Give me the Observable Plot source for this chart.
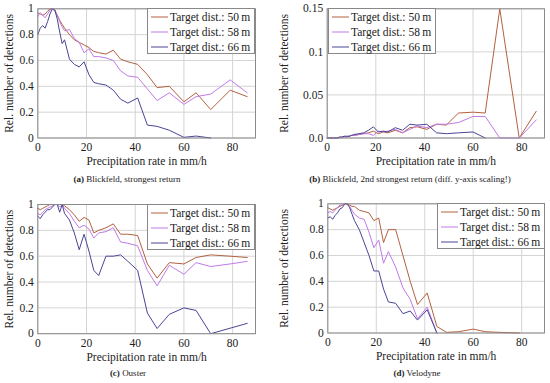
<!DOCTYPE html>
<html><head><meta charset="utf-8">
<script src="https://cdn.jsdelivr.net/npm/d3@7"></script>
<script src="https://cdn.jsdelivr.net/npm/@observablehq/plot@0.6"></script>
<style>
body{margin:0;background:#fff;width:550px;height:383px;position:relative;overflow:hidden;font-family:'Liberation Serif',serif;color:#222;}
.panel{position:absolute;}
.caption{position:absolute;font-size:9px;text-align:center;width:300px;white-space:nowrap;}
.legend{position:absolute;background:#fff;border:1px solid #888;font-size:11.5px;box-sizing:border-box;padding-top:1px;}
.legend .row{display:flex;align-items:center;height:14.7px;white-space:nowrap;}
.legend svg{margin:0 2px 0 3px;}
</style></head><body>
<script>
// shared x positions (precipitation rate, mm/h)
const xs = [0,1,2,3,4,5,6,7,8,9,10,11,13,15,17,19,21,23,25,28,31,34,37,41,45,49,54,60,65,71,79,86];
const seriesNames = ["Target dist.: 50\u2009m","Target dist.: 58\u2009m","Target dist.: 66\u2009m"];
const seriesColors = ["#b3613f","#c07ae8","#4a4596"];

// (a) Blickfeld, strongest return
const a50 = [0.97,0.96,0.95,0.96,0.98,1.0,1.0,0.99,0.95,0.91,0.88,0.85, 0.80,0.76,0.74,0.72,0.70,0.67,0.66, 0.65,0.68,0.61,0.59,0.57, 0.49,0.39,0.40,0.28,0.35,0.22,0.37,0.32];
const a58 = [0.94,0.97,0.95,0.93,0.96,0.99,1.0,0.98,0.95,0.90,0.86,0.83, 0.84,0.77,0.74,0.66,0.69,0.63,0.63, 0.62,0.60,0.52,0.48,0.47, 0.38,0.29,0.35,0.26,0.32,0.34,0.45,0.35];
const a66 = [0.80,0.85,0.87,0.85,0.90,0.96,1.0,0.99,0.92,0.82,0.73,0.76, 0.61,0.57,0.55,0.59,0.49,0.43,0.42, 0.41,0.37,0.30,0.27,0.31, 0.10,0.09,0.06,0.005,0.015,0,null,null];
// (b) Blickfeld, 2nd strongest return
const b50 = [0,0,0,0,0,0.001,0.001,0.002,0.001,0.002,0.003,0.003, 0.004,0.005,0.006,0.008,0.005,0.007,0.006, 0.009,0.006,0.012,0.013,0.010, 0.016,0.015,0.029,0.030,0.029,0.150,0,0.031];
const b58 = [0,0,0,0,0,0,0.001,0.001,0.002,0.002,0.003,0.003, 0.004,0.005,0.005,0.003,0.008,0.007,0.008, 0.010,0.006,0.010,0.014,0.012, 0.016,0.016,0.018,0.025,0.025,0,0,0.021];
const b66 = [0,0,0,0,0,0.001,0.001,0.002,0.002,0.002,0.003,0.004, 0.005,0.006,0.009,0.013,0.007,0.008,0.007, 0.012,0.009,0.016,0.015,0.016, 0.006,0.005,0.006,0.007,0,null,null,null];
// (c) Ouster
const c50 = [0.97,0.96,0.97,0.98,0.99,1.0,1.0,1.0,1.0,1.0,1.0,0.99, 0.96,0.92,0.87,0.90,0.88,0.78,0.80, 0.82,0.85,0.77,0.77,0.76, 0.54,0.43,0.55,0.54,0.59,0.61,0.60,0.59];
const c58 = [0.93,0.92,0.94,0.96,0.97,0.98,0.99,1.0,1.0,0.98,1.0,0.97, 0.93,0.87,0.82,0.84,0.81,0.74,0.78, 0.79,0.82,0.71,0.70,0.68, 0.49,0.37,0.53,0.46,0.55,0.52,0.54,0.56];
const c66 = [0.91,0.89,0.92,0.94,0.96,0.96,0.98,1.0,1.0,0.94,1.0,0.93, 0.88,0.78,0.65,0.77,0.64,0.49,0.45, 0.60,0.60,0.61,0.56,0.49, 0.16,0.04,0.15,0.20,0.18,0.0,null,0.08];
// (d) Velodyne
const d50 = [0.97,0.96,0.95,0.96,0.97,0.98,0.99,1.0,1.0,0.99,0.98,0.98, 0.95,0.94,0.93,0.87,0.89,0.70,0.80, 0.80,0.60,0.40,0.22,0.31, 0.05,0.005,0.01,0.03,0.01,0.005,0,null];
const d58 = [0.93,0.94,0.93,0.95,0.97,0.99,0.99,1.0,1.0,0.98,0.95,0.92, 0.89,0.88,0.78,0.66,0.72,0.54,0.63, 0.51,0.35,0.26,0.11,0.20, 0,null,null,null,null,null,null,null];
const d66 = [0.89,0.90,0.88,0.91,0.93,0.96,0.97,1.0,1.0,0.97,0.92,0.87, 0.80,0.70,0.60,0.48,0.48,0.34,0.24, 0.23,0.15,0.17,0.10,0.18, 0,null,null,null,null,null,null,null];

const xTicks = [0,20,40,60,80];
const yTicks01 = [0,0.2,0.4,0.6,0.8,1];
const yLabels01 = ["0","0.2","0.4","0.6","0.8","1"];
const yTicksB = [0,0.05,0.1,0.15];
const yLabelsB = ["0.0","0.05","0.1","0.15"];
const xTitle = "Precipitation rate in mm/h";
const yTitle = "Rel. number of detections";
const captionLetters = ["(a)","(b)","(c)","(d)"];
const captionTexts = [" Blickfeld, strongest return"," Blickfeld, 2nd strongest return (diff. y-axis scaling!)"," Ouster"," Velodyne"];

function tidy(list) {
  const rows = [];
  list.forEach((vals, k) => vals.forEach((v, i) => { if (v != null) rows.push({x: xs[i], y: v, series: seriesNames[k]}); }));
  return rows;
}

const panels = [
  {left:0,   top:0,   ml:37.3, mt:8.3,  series:[a50,a58,a66], yd:[0,1],    yt:yTicks01, yl:yLabels01, leg:{left:147, top:8,  w:108}, cap:{cx:127, top:174}},
  {left:275, top:0,   ml:51.7, mt:8.3,  series:[b50,b58,b66], yd:[0,0.15], yt:yTicksB,  yl:yLabelsB,  leg:{left:328, top:8,  w:108}, cap:{cx:410, top:174}},
  {left:0,   top:190, ml:37.3, mt:14,   series:[c50,c58,c66], yd:[0,1],    yt:yTicks01, yl:yLabels01, leg:{left:147, top:204,w:108}, cap:{cx:128, top:368}},
  {left:275, top:190, ml:52.3, mt:13.3, series:[d50,d58,d66], yd:[0,1],    yt:yTicks01, yl:yLabels01, leg:{left:437, top:203,w:107.5}, cap:{cx:417, top:368}}
];

panels.forEach((p, idx) => {
  const frameH = 129.2;
  const H = 176;
  const mr = idx % 2 === 0 ? 20 : 6;
  const chart = Plot.plot({
    width: 275, height: H,
    marginLeft: p.ml, marginRight: mr, marginTop: p.mt, marginBottom: H - p.mt - frameH,
    style: {fontFamily: "'Liberation Serif', serif", fontSize: "11.5px", color: "#222", background: "transparent", overflow: "visible"},
    x: {domain: [0, 89.4]},
    y: {domain: p.yd},
    color: {domain: seriesNames, range: seriesColors},
    marks: [
      Plot.gridX(xTicks, {stroke: "#d4d4d4", strokeOpacity: 1}),
      Plot.gridY(p.yt, {stroke: "#d4d4d4", strokeOpacity: 1}),
      Plot.axisX(xTicks, {tickSize: 0, tickPadding: 5, label: xTitle, labelAnchor: "center", labelOffset: 27, labelArrow: "none"}),
      Plot.axisY(p.yt, {tickSize: 0, tickPadding: 4, tickFormat: d => p.yl[p.yt.indexOf(d)], label: yTitle, labelAnchor: "center", labelOffset: p.ml - 4, labelArrow: "none"}),
      Plot.line(tidy(p.series), {x: "x", y: "y", stroke: "series", strokeWidth: 1}),
      Plot.frame({stroke: "#8a8a8a"})
    ]
  });
  const wrap = document.createElement("div");
  wrap.className = "panel";
  wrap.style.left = p.left + "px";
  wrap.style.top = p.top + "px";
  wrap.appendChild(chart);
  document.body.appendChild(wrap);

  const leg = document.createElement("div");
  leg.className = "legend";
  leg.style.left = p.leg.left + "px";
  leg.style.top = p.leg.top + "px";
  leg.style.width = p.leg.w + "px";
  leg.style.height = "46px";
  seriesNames.forEach((n, k) => {
    const row = document.createElement("div");
    row.className = "row";
    row.innerHTML = `<svg width="17" height="4"><line x1="0" x2="17" y1="2" y2="2" stroke="${seriesColors[k]}" stroke-width="1"/></svg><span>${n}</span>`;
    leg.appendChild(row);
  });
  document.body.appendChild(leg);

  const cap = document.createElement("div");
  cap.className = "caption";
  cap.style.left = (p.cap.cx - 150) + "px";
  cap.style.top = p.cap.top + "px";
  cap.innerHTML = `<b>${captionLetters[idx]}</b>${captionTexts[idx]}`;
  document.body.appendChild(cap);
});
</script>
</body></html>
